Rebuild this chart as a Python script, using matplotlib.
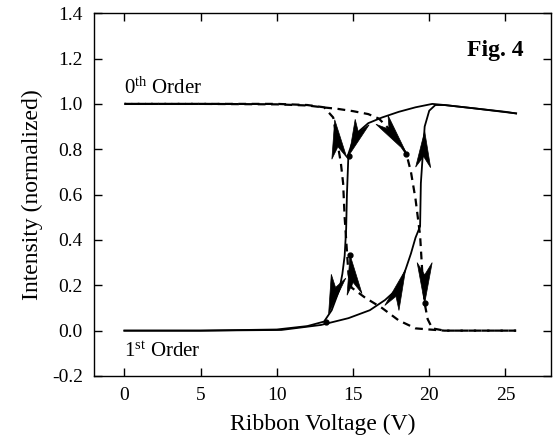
import numpy as np
import matplotlib
matplotlib.use("Agg")
import matplotlib.pyplot as plt
from matplotlib.patches import Polygon

plt.rcParams['font.family'] = ['Liberation Serif', 'DejaVu Serif']
plt.rcParams['mathtext.fontset'] = 'custom'
plt.rcParams['mathtext.rm'] = 'Liberation Serif'
plt.rcParams['mathtext.it'] = 'Liberation Serif:italic'

# 0th order, increasing voltage (dashed)
v_0th_up = [0, 5, 10, 12, 13, 14, 15, 16, 16.7, 17.5, 18.0, 18.5, 18.8, 19.1, 19.4, 19.55, 19.7, 19.9, 20.2, 21, 23, 25.7]
i_0th_up = [1.0, 1.0, 0.998, 0.993, 0.985, 0.978, 0.968, 0.955, 0.935, 0.88, 0.83, 0.78, 0.70, 0.58, 0.42, 0.25, 0.12, 0.05, 0.01, 0.0, 0.0, 0.0]

# 0th order, decreasing voltage (dashed)
v_0th_down = [25.7, 23, 21, 20, 19.1, 18, 16.9, 15.8, 14.9, 14.7, 14.6, 14.45, 14.35, 14.2, 14.0, 13.7, 13.1, 12, 10, 5, 0]
i_0th_down = [0.0, 0.0, 0.0, 0.005, 0.01, 0.045, 0.1, 0.145, 0.19, 0.25, 0.35, 0.5, 0.65, 0.74, 0.82, 0.94, 0.985, 0.995, 1.0, 1.0, 1.0]

# 1st order, increasing voltage (solid)
v_1st_up = [0, 5, 10.3, 12.9, 14.7, 16.1, 17.1, 18.0, 18.45, 18.8, 19.1, 19.4, 19.45, 19.7, 20.0, 20.4, 21, 23, 25, 25.7]
i_1st_up = [0.0, 0.0, 0.003, 0.025, 0.055, 0.09, 0.135, 0.19, 0.27, 0.34, 0.41, 0.46, 0.65, 0.9, 0.97, 0.995, 0.995, 0.98, 0.965, 0.958]

# 1st order, decreasing voltage (solid)
v_1st_down = [25.7, 23, 21, 20.2, 19.1, 18, 16.9, 16, 15.4, 14.9, 14.7, 14.6, 14.55, 14.45, 14.3, 14.1, 13.6, 13.1, 12, 10, 5, 0]
i_1st_down = [0.958, 0.98, 0.995, 1.0, 0.985, 0.965, 0.94, 0.915, 0.88, 0.82, 0.78, 0.6, 0.45, 0.33, 0.25, 0.18, 0.09, 0.04, 0.02, 0.005, 0.0, 0.0]

# direction arrows: (base, tip) in data units
arrows = [
    ((14.1, 0.76), (13.8, 0.93)),
    ((15.6, 0.92), (14.75, 0.775)),
    ((16.9, 0.93), (18.45, 0.79)),
    ((19.6, 0.72), (19.7, 0.88)),
    ((15.1, 0.16), (14.8, 0.335)),
    ((14.05, 0.24), (13.4, 0.075)),
    ((17.55, 0.10), (18.45, 0.27)),
    ((19.7, 0.30), (19.7, 0.12)),
]

# small dots seen where the curves bend
dots_v = [18.45, 19.7, 14.75, 14.8, 13.2]
dots_i = [0.78, 0.12, 0.77, 0.335, 0.04]

x_ticks = [0, 5, 10, 15, 20, 25]
y_ticks = [-0.2, 0.0, 0.2, 0.4, 0.6, 0.8, 1.0, 1.2, 1.4]


def add_head(ax, base, tip, width=15, notch=0.3):
    """Draw a notched arrow head from base to tip (sized in pixels)."""
    b = ax.transData.transform(base)
    t = ax.transData.transform(tip)
    d = t - b
    L = np.hypot(*d)
    u = d / L
    n = np.array([-u[1], u[0]])
    pts = [t, b + n * width / 2, b + u * L * notch, b - n * width / 2]
    pts = ax.transData.inverted().transform(np.array(pts))
    ax.add_patch(Polygon(pts, closed=True, facecolor='black', edgecolor='black', lw=0.5, zorder=5))


fig = plt.figure(figsize=(5.59, 4.40), dpi=100)
ax = fig.add_axes([0.168, 0.1455, 0.818, 0.8245])

dash = (0, (3.5, 2.5))
ax.plot(v_0th_up, i_0th_up, color='black', lw=1.6, linestyle=dash)
ax.plot(v_0th_down, i_0th_down, color='black', lw=1.6, linestyle=dash)
ax.plot(v_1st_up, i_1st_up, color='black', lw=1.3)
ax.plot(v_1st_down, i_1st_down, color='black', lw=1.3)
ax.plot(dots_v, dots_i, 'o', color='black', ms=3.5, linestyle='none')

ax.set_xlim(-2, 28)
ax.set_ylim(-0.2, 1.4)

for base, tip in arrows:
    add_head(ax, base, tip)

ax.set_xticks(x_ticks)
ax.set_yticks(y_ticks)
ax.set_yticklabels([f"{y:.1f}" for y in y_ticks])
ax.tick_params(direction='in', length=6, width=1, top=True, right=True,
               labelsize=14, pad=8)
for s in ax.spines.values():
    s.set_linewidth(1)

ax.set_xlabel('Ribbon Voltage (V)', fontsize=17, labelpad=7)
ax.set_ylabel('Intensity (normalized)', fontsize=17, labelpad=6)

ax.text(0, 1.07, r'0$^{\mathrm{th}}$ Order', fontsize=15, ha='left', va='center')
ax.text(0, -0.095, r'1$^{\mathrm{st}}$ Order', fontsize=15, ha='left', va='center')
ax.text(26.2, 1.235, 'Fig. 4', fontsize=17, fontweight='bold', ha='right', va='center')

fig.savefig('out.png', dpi=100)
